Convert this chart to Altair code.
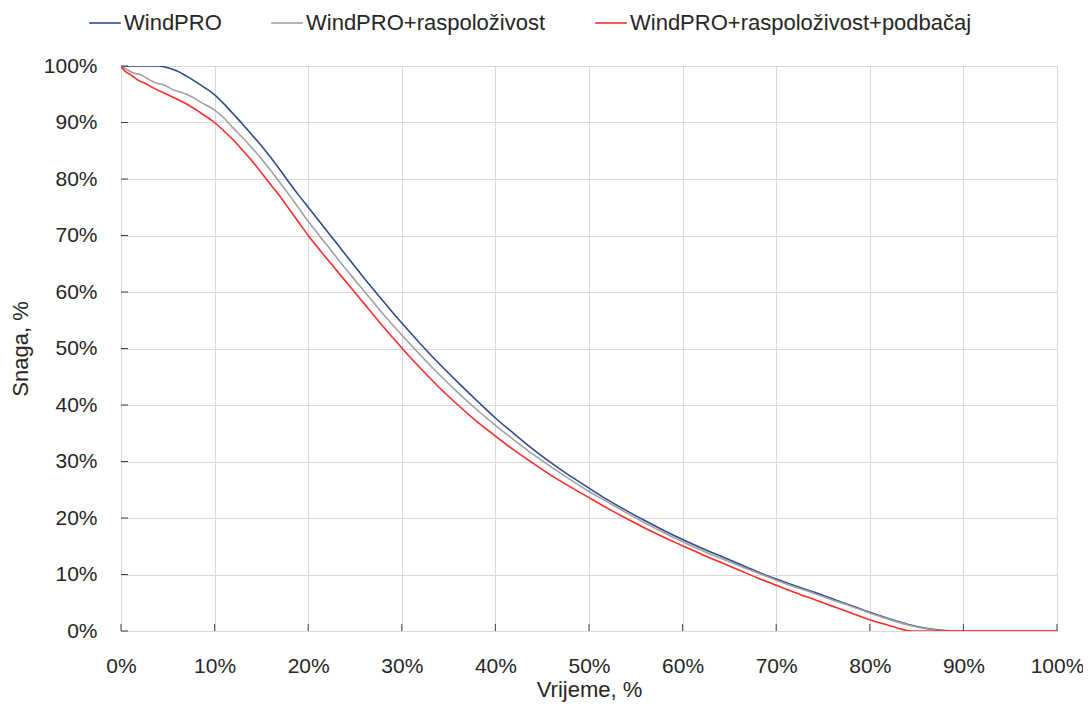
import altair as alt
import pandas as pd

# ---- data ----
series_names = ["WindPRO", "WindPRO+raspoloživost", "WindPRO+raspoloživost+podbačaj"]
series_colors = ["#2E4B8B", "#A0A0A0", "#FF2A2A"]

blue_x = [0, 2, 4, 5, 6, 7, 8, 9, 10, 11, 12, 13, 14, 15, 16, 17, 18, 19, 20,
          21, 22, 23, 24, 25, 26, 27, 28, 29, 30, 32, 34, 36, 38, 40, 42, 44,
          46, 48, 50, 52, 54, 56, 58, 60, 62, 64, 66, 68, 70, 72, 74, 76, 78,
          80, 82, 84, 86, 88, 89, 100]
blue_y = [100, 100, 100, 99.7, 99.1, 98.2, 97.2, 96.1, 94.9, 93.3, 91.5, 89.7,
          87.8, 85.9, 83.8, 81.6, 79.3, 77.1, 75.0, 72.9, 70.8, 68.7, 66.6,
          64.5, 62.4, 60.4, 58.4, 56.4, 54.5, 50.8, 47.3, 44.0, 40.8, 37.7,
          34.9, 32.2, 29.7, 27.4, 25.3, 23.2, 21.3, 19.5, 17.8, 16.2, 14.7,
          13.3, 11.9, 10.5, 9.2, 8.0, 6.9, 5.7, 4.5, 3.3, 2.2, 1.2, 0.5, 0.1,
          0, 0]

gray_x = [0, 0.7, 1.4, 2.0, 2.8, 3.9, 4.5, 5.7, 6.5, 7.5, 8.5, 10, 11, 12, 13,
          14, 15, 16, 17, 18, 19, 20, 21, 22, 23, 24, 25, 26, 27, 28, 29, 30,
          32, 34, 36, 38, 40, 42, 44, 46, 48, 50, 52, 54, 56, 58, 60, 62, 64,
          66, 68, 70, 72, 74, 76, 78, 80, 82, 84, 86, 88, 89, 100]
gray_y = [100, 99.3, 98.7, 98.5, 97.8, 96.9, 96.7, 95.7, 95.3, 94.6, 93.6,
          92.2, 90.8, 89.0, 87.3, 85.5, 83.6, 81.5, 79.3, 77.1, 74.8, 72.5,
          70.4, 68.3, 66.2, 64.1, 62.1, 60.1, 58.1, 56.1, 54.2, 52.4,
          48.8, 45.4, 42.2, 39.2, 36.4, 33.8, 31.3, 29.0, 26.8, 24.7, 22.8,
          20.9, 19.1, 17.4, 15.8, 14.3, 12.9, 11.6, 10.3, 9.0, 7.8, 6.7, 5.5,
          4.4, 3.2, 2.1, 1.1, 0.4, 0.05, 0, 0]

red_x = [0, 0.3, 1.1, 1.8, 2.5, 3.6, 5, 6, 7.2, 8.6, 10, 11, 12, 13, 14, 15,
         16, 17, 18, 19, 20, 21, 22, 23, 24, 25, 26, 27, 28, 29, 30, 32, 34,
         36, 38, 40, 42, 44, 46, 48, 50, 52, 54, 56, 58, 60, 62, 64, 66, 68,
         70, 72, 74, 76, 78, 80, 82, 83, 84, 85, 100]
red_y = [100, 99.3, 98.4, 97.5, 97.0, 96.0, 94.9, 94.1, 93.1, 91.6, 90.0,
         88.5, 86.9, 85.1, 83.2, 81.1, 79.0, 76.9, 74.6, 72.3, 70.0, 67.9,
         65.9, 63.9, 61.9, 59.9, 57.9, 55.9, 53.9, 52.0, 50.1, 46.5, 43.1,
         40.0, 37.1, 34.5, 32.0, 29.7, 27.5, 25.5, 23.6, 21.7, 19.9, 18.2,
         16.6, 15.1, 13.6, 12.2, 10.8, 9.4, 8.1, 6.8, 5.6, 4.4, 3.2, 2.0,
         1.0, 0.5, 0.1, 0, 0]

x_ticks = [0, 10, 20, 30, 40, 50, 60, 70, 80, 90, 100]
y_ticks = [0, 10, 20, 30, 40, 50, 60, 70, 80, 90, 100]

# ---- build table ----
rows = []
for name, xs, ys in zip(series_names, [blue_x, gray_x, red_x], [blue_y, gray_y, red_y]):
    for i, (xv, yv) in enumerate(zip(xs, ys)):
        rows.append({"series": name, "order": i, "t": xv, "p": yv})
df = pd.DataFrame(rows)

FONT = "Liberation Sans"
TXT = "#262626"
W, H = 936, 565

xscale = alt.Scale(domain=[0, 100], nice=False, zero=False)
yscale = alt.Scale(domain=[0, 100], nice=False, zero=False)

lines = alt.Chart(df).mark_line(strokeWidth=1.6, clip=True, interpolate="monotone").encode(
    x=alt.X("t:Q", scale=xscale, title="Vrijeme, %",
            axis=alt.Axis(values=x_ticks, labelExpr="datum.value + '%'",
                          grid=True, gridColor="#D9D9D9", gridWidth=1,
                          tickSize=0, labelPadding=24, domain=False,
                          labelFlush=False, labelOverlap=False,
                          labelFontSize=21, titleFontSize=22, labelFont=FONT,
                          titleFont=FONT, labelColor=TXT, titleColor=TXT,
                          titleFontWeight="normal", titleX=W / 2, titleY=65,
                          titleBaseline="alphabetic", titleAlign="center")),
    y=alt.Y("p:Q", scale=yscale, title="Snaga, %",
            axis=alt.Axis(values=y_ticks, labelExpr="datum.value + '%'",
                          grid=True, gridColor="#D9D9D9", gridWidth=1,
                          tickSize=0, labelPadding=24, domain=False,
                          labelFlush=False, labelOverlap=False,
                          labelFontSize=21, titleFontSize=22, labelFont=FONT,
                          titleFont=FONT, labelColor=TXT, titleColor=TXT,
                          titleFontWeight="normal", titleX=-101, titleY=H / 2,
                          titleBaseline="middle", titleAlign="center")),
    color=alt.Color("series:N",
                    scale=alt.Scale(domain=series_names, range=series_colors),
                    sort=series_names,
                    legend=alt.Legend(title=None, orient="none", direction="horizontal",
                                      legendX=-33, legendY=-60,
                                      symbolType="stroke", symbolSize=1000,
                                      symbolStrokeWidth=1.6, labelFontSize=22,
                                      labelFont=FONT, labelColor=TXT,
                                      labelOffset=2, columnPadding=45,
                                      labelLimit=600)),
    order="order:Q",
)

# inward tick marks (positioned through the scales)
ytick_df = pd.DataFrame({"v": y_ticks})
xtick_df = pd.DataFrame({"v": x_ticks})
yt = alt.Chart(ytick_df).mark_rule(color="#404040", strokeWidth=1).encode(
    y=alt.Y("v:Q", scale=yscale), x=alt.value(0), x2=alt.value(7))
xt = alt.Chart(xtick_df).mark_rule(color="#404040", strokeWidth=1).encode(
    x=alt.X("v:Q", scale=xscale), y=alt.value(H), y2=alt.value(H - 7))

chart = alt.layer(lines, yt, xt).properties(
    width=W, height=H,
    autosize=alt.AutoSizeParams(type="none"),
    padding={"left": 113, "top": 58, "right": 26, "bottom": 76},
).configure_view(
    stroke="#404040", strokeWidth=1.2
).configure(background="white")

chart.save("out.html", embed_options={"renderer": "svg", "actions": False})
